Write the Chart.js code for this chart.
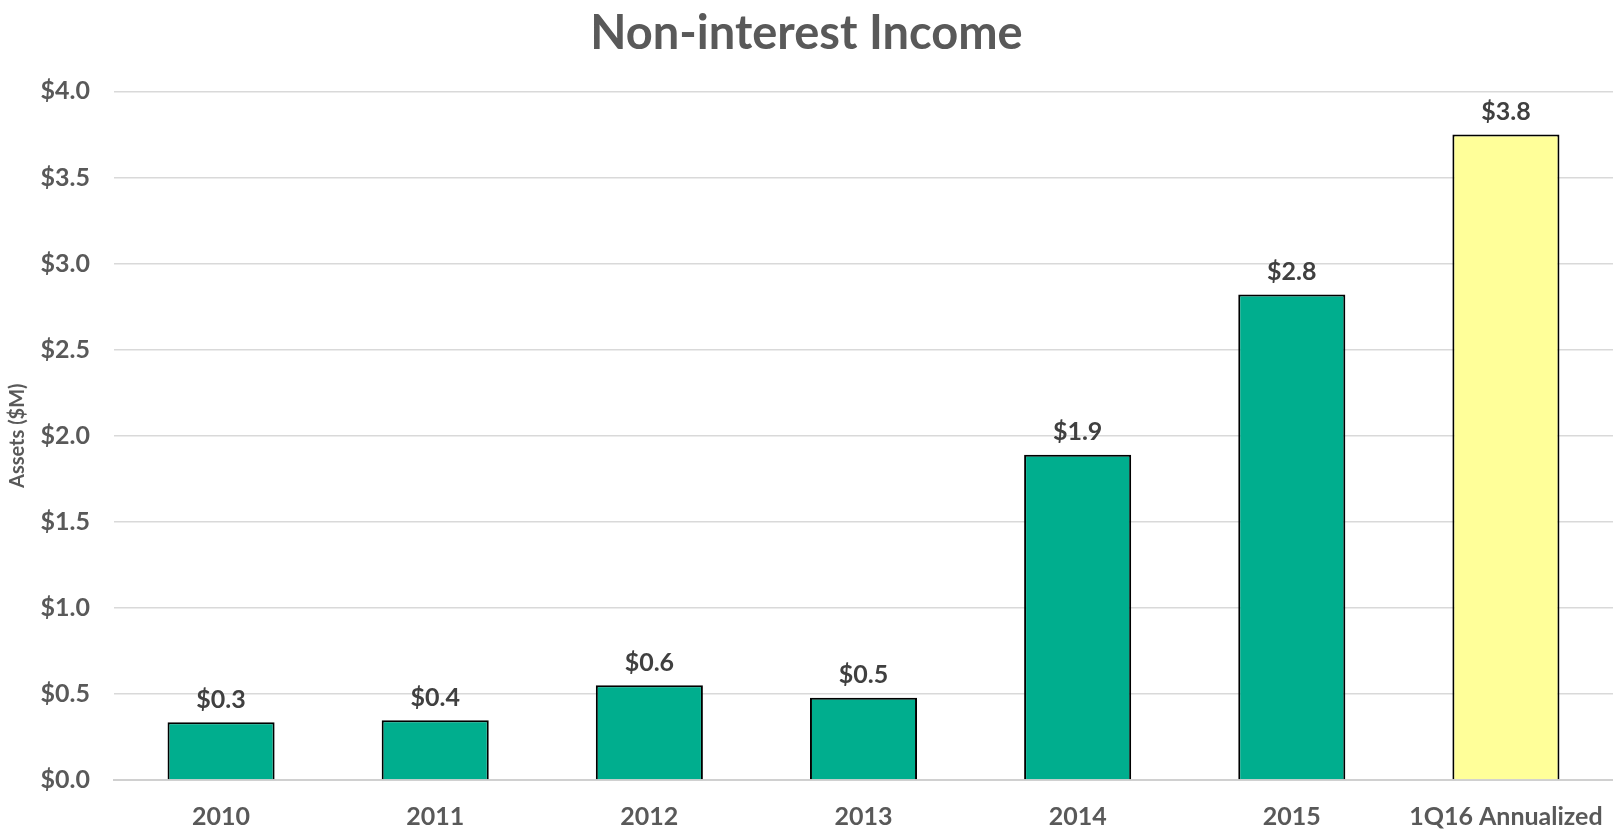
<!DOCTYPE html>
<html>
<head>
<meta charset="utf-8">
<script src="https://cdn.jsdelivr.net/npm/chart.js@4.4.1/dist/chart.umd.min.js"></script>
<style>
  html, body { margin: 0; padding: 0; background: #fff; }
  #wrap { width: 1613px; height: 832px; position: relative; }
</style>
</head>
<body>
<div id="wrap"><canvas id="grafico"></canvas></div>
<script>
// dados
const categorias = ['2010', '2011', '2012', '2013', '2014', '2015', '1Q16 Annualized'];
const valores = [0.335, 0.347, 0.55, 0.478, 1.89, 2.82, 3.75];
const rotulos = ['$0.3', '$0.4', '$0.6', '$0.5', '$1.9', '$2.8', '$3.8'];
const cores = ['#00AE8E', '#00AE8E', '#00AE8E', '#00AE8E', '#00AE8E', '#00AE8E', '#FFFF99'];

const fonte = 'Lato, "Open Sans", sans-serif';

// escreve o valor em cima de cada barra
const rotuloBarras = {
    id: 'rotuloBarras',
    afterDatasetsDraw(chart) {
        const ctx = chart.ctx;
        const meta = chart.getDatasetMeta(0);
        ctx.save();
        ctx.font = 'bold 25px ' + fonte;
        ctx.fillStyle = '#404040';
        ctx.textAlign = 'center';
        ctx.textBaseline = 'bottom';
        meta.data.forEach((bar, i) => {
            ctx.fillText(rotulos[i], bar.x, bar.y - 10);
        });
        ctx.restore();
    }
};

new Chart(document.getElementById('grafico'), {
    type: 'bar',
    data: {
        labels: categorias,
        datasets: [{
            data: valores,
            backgroundColor: cores,
            borderColor: '#000000',
            borderWidth: 2,
            borderSkipped: 'bottom',
            barPercentage: 0.5,
            categoryPercentage: 1.0
        }]
    },
    options: {
        responsive: true,
        maintainAspectRatio: false,
        animation: false,
        layout: { padding: { top: 6, right: 0, left: 0, bottom: 0 } },
        plugins: {
            legend: { display: false },
            tooltip: { enabled: false },
            title: {
                display: true,
                text: 'Non-interest Income',
                color: '#595959',
                font: { family: fonte, size: 47, weight: 'bold' },
                padding: { top: 0, bottom: 29 }
            }
        },
        scales: {
            x: {
                grid: { display: false },
                border: { color: '#d0d0d0', width: 2 },
                afterFit: (scale) => {
                    scale.height = 52;
                    scale.paddingRight = 0;
                    scale.paddingLeft = 0;
                },
                ticks: {
                    color: '#595959',
                    font: { family: fonte, size: 25, weight: 'bold' },
                    padding: 14,
                    maxRotation: 0
                }
            },
            y: {
                min: 0,
                max: 4,
                afterFit: (scale) => { scale.width = 114; },
                grid: { color: '#d9d9d9', lineWidth: 1.5, drawTicks: false },
                border: { display: false },
                ticks: {
                    stepSize: 0.5,
                    color: '#595959',
                    font: { family: fonte, size: 25, weight: 'bold' },
                    padding: 24,
                    callback: v => '$' + v.toFixed(1)
                },
                title: {
                    display: true,
                    text: 'Assets ($M)',
                    color: '#595959',
                    font: { family: fonte, size: 20, weight: 'bold', lineHeight: 1 },
                    padding: { top: 8, bottom: 0 }
                }
            }
        }
    },
    plugins: [rotuloBarras]
});
</script>
</body>
</html>
